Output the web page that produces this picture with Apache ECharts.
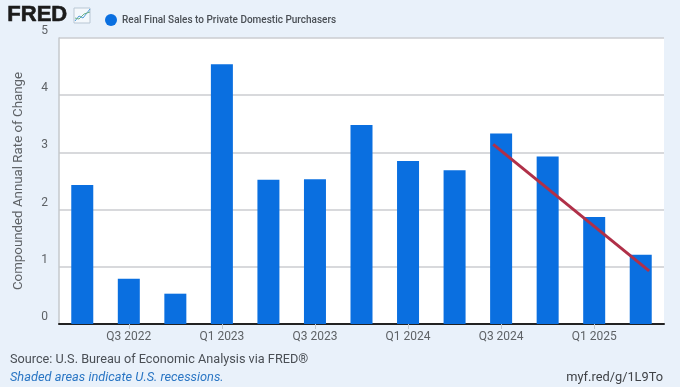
<!DOCTYPE html>
<html><head><meta charset="utf-8">
<style>html,body{margin:0;padding:0;background:#e9f1fa}#c{width:680px;height:387px}</style>
<script src="https://cdn.jsdelivr.net/npm/echarts@6/dist/echarts.min.js"></script>
</head><body><div id="c"></div>
<script>
const categories=['Q2 2022','Q3 2022','Q4 2022','Q1 2023','Q2 2023','Q3 2023','Q4 2023','Q1 2024','Q2 2024','Q3 2024','Q4 2024','Q1 2025','Q2 2025'];
const salesValues=[2.43,0.79,0.53,4.54,2.52,2.53,3.48,2.85,2.69,3.33,2.93,1.87,1.21];
const trendLine=[[8.83,3.14],[12.18,0.93]];
const seriesName='Real Final Sales to Private Domestic Purchasers';
const yAxisName='Compounded Annual Rate of Change';
const sourceText='Source: U.S. Bureau of Economic Analysis via FRED®';
const recessionText='Shaded areas indicate U.S. recessions.';
const linkText='myf.red/g/1L9To';
const font='Roboto';
const chart=echarts.init(document.getElementById('c'),null,{renderer:'canvas'});
chart.setOption({
 animation:false,
 backgroundColor:'#e9f1fa',
 textStyle:{fontFamily:font},
 grid:{left:59,right:16,top:38,bottom:63,backgroundColor:'#fff',show:true,borderWidth:0},
 legend:{data:[{name:seriesName,icon:'circle'}],left:100,top:9,itemWidth:12,itemHeight:12,itemGap:9,
   textStyle:{fontFamily:font,fontSize:10,color:'#4a4f55',fontWeight:500}},
 xAxis:[{type:'category',data:categories,
   axisLine:{lineStyle:{color:'#222',width:2}},
   axisTick:{show:true,alignWithLabel:true,length:5,lineStyle:{color:'#c4c8cc'},
     interval:(i)=>i%2===1},
   axisLabel:{interval:(i)=>i%2===1,color:'#5e6266',fontSize:12,margin:7}},
  {type:'value',min:-0.5,max:12.5,show:false}],
 yAxis:{type:'value',min:0,max:5,interval:1,
   name:yAxisName,nameLocation:'middle',nameGap:34,
   nameTextStyle:{color:'#5e6266',fontSize:13.3},
   axisLine:{show:true,onZero:false,lineStyle:{color:'#c4c8cc',width:1.5}},
   axisTick:{show:false},
   axisLabel:{color:'#5e6266',fontSize:12,margin:11,verticalAlign:'bottom',lineHeight:14},
   splitLine:{lineStyle:{color:'#cbcdd0',width:1.5}}},
 series:[
  {name:seriesName,type:'bar',data:salesValues,barWidth:22,itemStyle:{color:'#0a6fe0'}},
  {name:'Trend',type:'line',xAxisIndex:1,data:trendLine,symbol:'none',z:5,
   lineStyle:{color:'#b03048',width:3}}
 ],
 graphic:[
  {type:'text',left:7,top:4,style:{text:'FRED',fontFamily:'Liberation Sans',fontWeight:900,fontSize:22,fill:'#1b1b1b',stroke:'#1b1b1b',lineWidth:0.6}},
  {type:'rect',shape:{x:74,y:8,width:16,height:15},style:{fill:'#f4f8fc',stroke:'#b9c7d4',lineWidth:1}},
  {type:'polyline',shape:{points:[[75,21],[79,16],[83,18],[90,9]]},style:{stroke:'#4f9bd9',fill:null,lineWidth:1}},
  {type:'polyline',shape:{points:[[75,18],[79,19],[84,14],[90,12]]},style:{stroke:'#6fb28a',fill:null,lineWidth:1}},
  {type:'text',left:10,top:353,style:{text:sourceText,fontFamily:font,fontSize:12.7,fill:'#4a4f55'}},
  {type:'text',left:10,top:371,style:{text:recessionText,fontFamily:font,fontSize:12.8,fontStyle:'italic',fill:'#2a76c4'}},
  {type:'text',right:17,top:371,style:{text:linkText,fontFamily:font,fontSize:12.8,fill:'#3f4246'}}
 ]
});
</script></body></html>
